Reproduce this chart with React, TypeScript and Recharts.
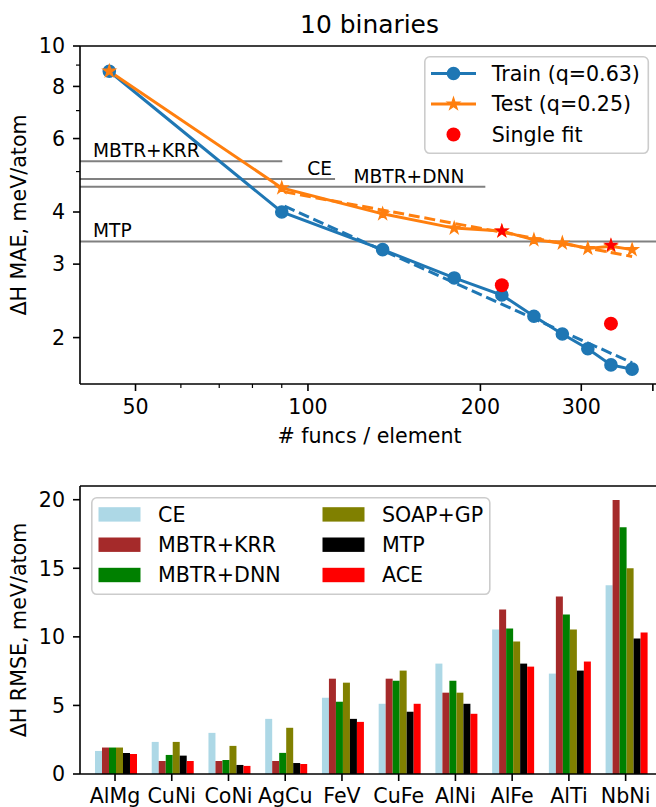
import React from "react";
import {
  ComposedChart,
  Line,
  Scatter,
  XAxis,
  YAxis,
  ReferenceLine,
  BarChart,
  Bar,
} from "recharts";

const FONT = "'DejaVu Sans', sans-serif";
const FS = 20.6;
const BLUE = "#1f77b4";
const ORANGE = "#ff7f0e";

// top panel: MAE vs # functions per element (log-log)
const FUNCS = [45, 90, 135, 180, 218, 248, 278, 308, 338, 368];
const TRAIN_MAE = [8.7, 4.0, 3.25, 2.78, 2.53, 2.25, 2.04, 1.88, 1.72, 1.68];
const TEST_MAE = [8.7, 4.57, 3.96, 3.66, 3.6, 3.43, 3.37, 3.27, 3.31, 3.25];
const FIT_FUNCS = [91, 368];
const TRAIN_FIT = [4.13, 1.74];
const TEST_FIT = [4.47, 3.13];
const SINGLE_FUNCS = [218, 338];
const SINGLE_TRAIN = [2.67, 2.16];
const SINGLE_TEST = [3.6, 3.33];

// reference methods (horizontal lines)
const REF_NAMES = ["MBTR+KRR", "CE", "MBTR+DNN", "MTP"];
const REF_MAE = [5.29, 4.8, 4.6, 3.4];
const REF_UNTIL = [90.2, 111.5, 204, 410];

const X_TICKS = [50, 60, 70, 80, 90, 100, 200, 300, 400];
const X_MAJOR = [50, 100, 200, 300, 400];
const X_LABELS = [50, 100, 200, 300];
const Y_TICKS = [2, 3, 4, 5, 6, 7, 8, 9, 10];
const Y_LABELS = [2, 3, 4, 6, 8, 10];

// bottom panel: RMSE per binary system
const BINARIES = ["AlMg", "CuNi", "CoNi", "AgCu", "FeV", "CuFe", "AlNi", "AlFe", "AlTi", "NbNi"];
const CE = [1.68, 2.34, 3.0, 4.02, 5.56, 5.12, 8.05, 10.54, 7.32, 13.76];
const MBTR_KRR = [1.93, 0.95, 0.95, 0.95, 6.95, 6.95, 5.93, 12.0, 12.95, 19.98];
const MBTR_DNN = [1.93, 1.39, 1.02, 1.54, 5.27, 6.8, 6.8, 10.61, 11.63, 18.0];
const SOAP_GP = [1.93, 2.34, 2.05, 3.37, 6.66, 7.54, 5.93, 9.66, 10.54, 15.0];
const MTP = [1.54, 1.34, 0.66, 0.8, 4.02, 4.54, 5.12, 8.05, 7.54, 9.88];
const ACE = [1.46, 0.95, 0.59, 0.73, 3.8, 5.12, 4.39, 7.83, 8.2, 10.32];

const BAR_SERIES = [
  { key: "ce", name: "CE", values: CE, color: "#add8e6" },
  { key: "krr", name: "MBTR+KRR", values: MBTR_KRR, color: "#a52a2a" },
  { key: "dnn", name: "MBTR+DNN", values: MBTR_DNN, color: "#008000" },
  { key: "soap", name: "SOAP+GP", values: SOAP_GP, color: "#808000" },
  { key: "mtp", name: "MTP", values: MTP, color: "#000000" },
  { key: "ace", name: "ACE", values: ACE, color: "#ff0000" },
];

const pts = (xs: number[], ys: number[]) => xs.map((x, i) => ({ x, y: ys[i] }));

const trainPts = pts(FUNCS, TRAIN_MAE);
const testPts = pts(FUNCS, TEST_MAE);
const trainFit = pts(FIT_FUNCS, TRAIN_FIT);
const testFit = pts(FIT_FUNCS, TEST_FIT);
const singleTrain = pts(SINGLE_FUNCS, SINGLE_TRAIN);
const singleTest = pts(SINGLE_FUNCS, SINGLE_TEST);

const barRows = BINARIES.map((name, i) => {
  const row: Record<string, number | string> = { name };
  BAR_SERIES.forEach((s) => (row[s.key] = s.values[i]));
  return row;
});

function starPath(cx: number, cy: number, R: number) {
  const r = R * 0.382;
  let d = "";
  for (let i = 0; i < 10; i++) {
    const a = -Math.PI / 2 + (i * Math.PI) / 5;
    const rr = i % 2 === 0 ? R : r;
    d += (i === 0 ? "M" : "L") + (cx + rr * Math.cos(a)).toFixed(2) + "," + (cy + rr * Math.sin(a)).toFixed(2);
  }
  return d + "Z";
}

// eslint-disable-next-line @typescript-eslint/no-explicit-any
function renderXTick(props: any) {
  const { x, y, payload } = props;
  const v = payload.value;
  const major = X_MAJOR.includes(v);
  return (
    <g>
      <line x1={x} x2={x} y1={y} y2={y + (major ? 7 : 4)} stroke="#000" strokeWidth={major ? 1.6 : 1.2} />
      {X_LABELS.includes(v) && (
        <text x={x} y={y + 30} textAnchor="middle" fontSize={FS} fontFamily={FONT} fill="#000">
          {v}
        </text>
      )}
    </g>
  );
}

// eslint-disable-next-line @typescript-eslint/no-explicit-any
function renderYTick(props: any) {
  const { x, y, payload } = props;
  const v = payload.value;
  const major = Y_LABELS.includes(v);
  return (
    <g>
      <line x1={x} x2={x - (major ? 7 : 4)} y1={y} y2={y} stroke="#000" strokeWidth={major ? 1.6 : 1.2} />
      {major && (
        <text x={x - 15} y={y + 7.3} textAnchor="end" fontSize={FS} fontFamily={FONT} fill="#000">
          {v}
        </text>
      )}
    </g>
  );
}

// eslint-disable-next-line @typescript-eslint/no-explicit-any
function renderBarXTick(props: any) {
  const { x, y, payload } = props;
  return (
    <g>
      <line x1={x} x2={x} y1={y} y2={y + 7} stroke="#000" strokeWidth={1.6} />
      <text x={x} y={y + 29} textAnchor="middle" fontSize={FS} fontFamily={FONT} fill="#000">
        {payload.value}
      </text>
    </g>
  );
}

// eslint-disable-next-line @typescript-eslint/no-explicit-any
function renderBarYTick(props: any) {
  const { x, y, payload } = props;
  return (
    <g>
      <line x1={x} x2={x - 7} y1={y} y2={y} stroke="#000" strokeWidth={1.6} />
      <text x={x - 15} y={y + 7.3} textAnchor="end" fontSize={FS} fontFamily={FONT} fill="#000">
        {payload.value}
      </text>
    </g>
  );
}

// eslint-disable-next-line @typescript-eslint/no-explicit-any
function refLabel(name: string, props: any) {
  const vb = props.viewBox || { x: 80, y: 0, width: 0 };
  const atEnd = name === "CE" || name === "MBTR+DNN";
  const x = atEnd ? vb.x + vb.width - (name === "CE" ? 3 : 21) : vb.x + 13;
  return (
    <text x={x} y={vb.y - 4} textAnchor={atEnd ? "end" : "start"} fontSize={18.6} fontFamily={FONT} fill="#000">
      {name}
    </text>
  );
}

// eslint-disable-next-line @typescript-eslint/no-explicit-any
function yLabel(text: string, props: any) {
  const vb = props.viewBox || { y: 0, height: 0 };
  const cy = vb.y + vb.height / 2;
  return (
    <text
      x={26}
      y={cy}
      transform={`rotate(-90 26 ${cy})`}
      textAnchor="middle"
      fontSize={FS}
      fontFamily={FONT}
      fill="#000"
    >
      {text}
    </text>
  );
}

function TopLegend() {
  const rows = [
    { label: "Train (q=0.63)", kind: "train" },
    { label: "Test (q=0.25)", kind: "test" },
    { label: "Single fit", kind: "single" },
  ];
  return (
    <svg
      width={226}
      height={99}
      style={{ position: "absolute", left: 424, top: 56 }}
    >
      <rect x={0.8} y={0.8} width={223.5} height={96.5} rx={5} fill="rgba(255,255,255,0.8)" stroke="#cccccc" strokeWidth={1.6} />
      {rows.map((r, i) => {
        const cy = 17.5 + i * 30.5;
        return (
          <g key={r.kind}>
            {r.kind !== "single" && (
              <line x1={7} x2={52} y1={cy} y2={cy} stroke={r.kind === "train" ? BLUE : ORANGE} strokeWidth={3} />
            )}
            {r.kind === "train" && <circle cx={29.5} cy={cy} r={6} fill={BLUE} stroke={BLUE} strokeWidth={1.6} />}
            {r.kind === "test" && <path d={starPath(29.5, cy, 6.5)} fill={ORANGE} stroke={ORANGE} strokeWidth={1.2} />}
            {r.kind === "single" && <circle cx={29.5} cy={cy} r={7} fill="red" />}
            <text x={67.7} y={cy + 7.4} fontSize={FS} fontFamily={FONT} fill="#000">
              {r.label}
            </text>
          </g>
        );
      })}
    </svg>
  );
}

function BarLegend() {
  return (
    <svg width={402} height={100} style={{ position: "absolute", left: 91, top: 497 }}>
      <rect x={0.8} y={0.8} width={398} height={96.5} rx={5} fill="rgba(255,255,255,0.8)" stroke="#cccccc" strokeWidth={1.6} />
      {BAR_SERIES.map((s, i) => {
        const col = Math.floor(i / 3);
        const cy = 17.4 + (i % 3) * 30.3;
        const px = col === 0 ? 7.5 : 231.5;
        return (
          <g key={s.key}>
            <rect x={px} y={cy - 7.2} width={42} height={14.4} fill={s.color} />
            <text x={px + 59.5} y={cy + 7.4} fontSize={FS} fontFamily={FONT} fill="#000">
              {s.name}
            </text>
          </g>
        );
      })}
    </svg>
  );
}

export default function App() {
  return (
    <div
      style={{
        position: "absolute",
        left: 0,
        top: 0,
        width: 656,
        height: 807,
        overflow: "hidden",
        background: "#fff",
        fontFamily: FONT,
      }}
    >
      <svg width={656} height={45} style={{ position: "absolute", left: 0, top: 0 }}>
        <text x={369.5} y={33.3} textAnchor="middle" fontSize={24.9} fontFamily={FONT} fill="#000">
          10 binaries
        </text>
      </svg>

      {/* MAE vs number of functions */}
      <div style={{ position: "absolute", left: 0, top: 0 }}>
        <ComposedChart width={660} height={452} margin={{ top: 46, right: 1, bottom: 0, left: 0 }}>
          <XAxis
            type="number"
            dataKey="x"
            scale="log"
            domain={[40, 410]}
            allowDataOverflow
            ticks={X_TICKS}
            interval={0}
            tickSize={0}
            tickMargin={0}
            tickLine={false}
            tick={renderXTick}
            axisLine={{ stroke: "#000", strokeWidth: 1.6 }}
            height={68}
            label={(p: any) => (
              <text
                x={(p.viewBox?.x ?? 80) + (p.viewBox?.width ?? 579) / 2}
                y={442.7}
                textAnchor="middle"
                fontSize={FS}
                fontFamily={FONT}
                fill="#000"
              >
                # funcs / element
              </text>
            )}
          />
          <YAxis
            type="number"
            dataKey="y"
            scale="log"
            domain={[1.548, 10]}
            allowDataOverflow
            ticks={Y_TICKS}
            interval={0}
            tickSize={0}
            tickMargin={0}
            tickLine={false}
            tick={renderYTick}
            axisLine={{ stroke: "#000", strokeWidth: 1.6 }}
            width={80}
            label={(p: any) => yLabel("ΔH MAE, meV/atom", p)}
          />
          <ReferenceLine y={10} stroke="#000" strokeWidth={1.6} ifOverflow="visible" />
          {REF_NAMES.map((name, i) => (
            <ReferenceLine
              key={name}
              segment={[
                { x: 40, y: REF_MAE[i] },
                { x: REF_UNTIL[i], y: REF_MAE[i] },
              ]}
              stroke="#808080"
              strokeWidth={2}
              ifOverflow="visible"
              label={(p: any) => refLabel(name, p)}
            />
          ))}
          <Line
            data={trainPts}
            dataKey="y"
            stroke={BLUE}
            strokeWidth={3}
            isAnimationActive={false}
            dot={(p: any) => (
              <circle key={`tr-${p.index}`} cx={p.cx} cy={p.cy} r={6} fill={BLUE} stroke={BLUE} strokeWidth={1.6} />
            )}
            activeDot={false}
          />
          <Line
            data={trainFit}
            dataKey="y"
            stroke={BLUE}
            strokeWidth={3}
            strokeDasharray="11 4.8"
            dot={false}
            activeDot={false}
            isAnimationActive={false}
          />
          <Line
            data={testPts}
            dataKey="y"
            stroke={ORANGE}
            strokeWidth={3}
            isAnimationActive={false}
            dot={(p: any) => (
              <path key={`te-${p.index}`} d={starPath(p.cx, p.cy, 6.5)} fill={ORANGE} stroke={ORANGE} strokeWidth={1.2} />
            )}
            activeDot={false}
          />
          <Line
            data={testFit}
            dataKey="y"
            stroke={ORANGE}
            strokeWidth={3}
            strokeDasharray="11 4.8"
            dot={false}
            activeDot={false}
            isAnimationActive={false}
          />
          <Scatter
            data={singleTrain}
            fill="red"
            isAnimationActive={false}
            shape={(p: any) => <circle cx={p.cx} cy={p.cy} r={7} fill="red" />}
          />
          <Scatter
            data={singleTest}
            fill="red"
            isAnimationActive={false}
            shape={(p: any) => <path d={starPath(p.cx, p.cy, 8)} fill="red" />}
          />
        </ComposedChart>
      </div>
      <TopLegend />

      {/* RMSE per binary */}
      <div style={{ position: "absolute", left: 0, top: 470 }}>
        <BarChart
          width={662}
          height={337}
          data={barRows}
          margin={{ top: 16, right: 1, bottom: 0, left: 0 }}
          barCategoryGap="14.7%"
          barGap={0}
        >
          <XAxis
            dataKey="name"
            height={33}
            padding={{ left: 6.65, right: 7 }}
            interval={0}
            tickSize={0}
            tickMargin={0}
            tickLine={false}
            tick={renderBarXTick}
            axisLine={{ stroke: "#000", strokeWidth: 1.6 }}
          />
          <YAxis
            type="number"
            domain={[0, 21]}
            ticks={[0, 5, 10, 15, 20]}
            interval={0}
            tickSize={0}
            tickMargin={0}
            tickLine={false}
            tick={renderBarYTick}
            axisLine={{ stroke: "#000", strokeWidth: 1.6 }}
            width={80}
            label={(p: any) => yLabel("ΔH RMSE, meV/atom", p)}
          />
          <ReferenceLine y={21} stroke="#000" strokeWidth={1.6} ifOverflow="visible" />
          {BAR_SERIES.map((s) => (
            <Bar key={s.key} dataKey={s.key} fill={s.color} isAnimationActive={false} />
          ))}
        </BarChart>
      </div>
      <BarLegend />
    </div>
  );
}
